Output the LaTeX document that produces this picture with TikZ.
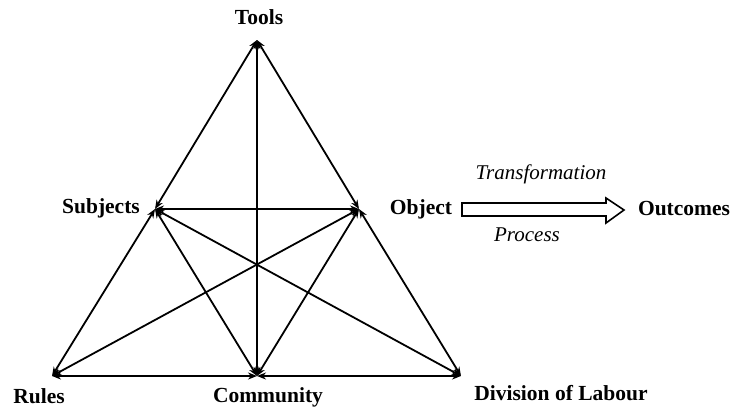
\documentclass[tikz,border=0pt]{standalone}
\usepackage{fontspec}
\setmainfont{Liberation Serif}
\usetikzlibrary{positioning,arrows.meta}
\tikzset{
  link/.style={<->,>={Stealth[length=9pt,width=7pt]},line width=1.8pt},
  corner/.style={font=\fontsize{21.5}{24}\selectfont\bfseries,inner sep=0pt},
  note/.style={font=\fontsize{21}{24}\selectfont\itshape,inner sep=0pt}
}
\begin{document}
\begin{tikzpicture}[x=1pt,y=-1pt]
\useasboundingbox (0,0) rectangle (734,409);
% corners of the triangle
\coordinate (tools) at (257,40);
\coordinate (subj) at (155,209);
\coordinate (obj) at (359,209);
\coordinate (rules) at (52,376);
\coordinate (comm) at (257,376);
\coordinate (div) at (461,376);
% labels
\node[corner] (toolslbl) at (259,17) {Tools};
\node[corner] (subjlbl) at (101,208) {Subjects};
\node[corner] (objlbl) at (421,209) {Object};
\node[corner] (outlbl) at (684,209) {Outcomes};
\node[corner] (ruleslbl) at (39,396) {Rules};
\node[corner] (commlbl) at (268,397) {Community};
\node[corner] (divlbl) at (561,393) {Division of Labour};
\node[note] (translbl) at (541,174) {Transformation};
\node[note] (proclbl) at (527,235) {Process};
% links between the corners
\foreach \a/\b in {tools/subj, subj/rules, tools/obj, obj/div, rules/comm, comm/div,
                   tools/comm, subj/obj, subj/comm, obj/comm, subj/div, obj/rules}
  \draw[link] (\a) -- (\b);
% process arrow
\draw[line width=1.6pt] (462,203) -- (606,203) -- (606,198) -- (624,210)
  -- (606,223) -- (606,216) -- (462,216) -- cycle;
\end{tikzpicture}
\end{document}
